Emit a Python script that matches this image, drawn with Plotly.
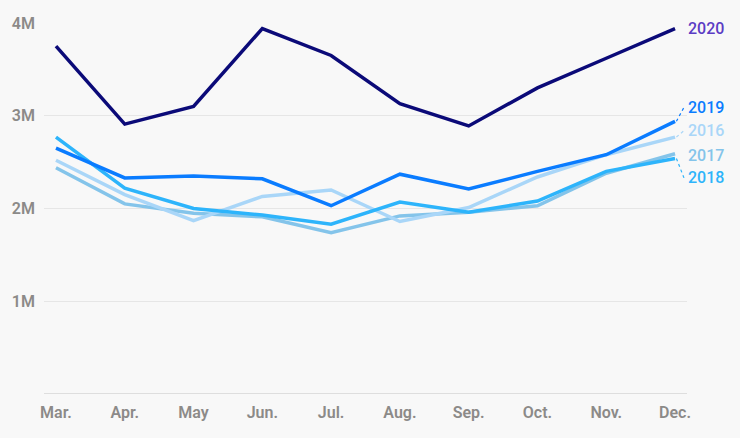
import plotly.graph_objects as go

months = ["Mar.", "Apr.", "May", "Jun.", "Jul.", "Aug.", "Sep.", "Oct.", "Nov.", "Dec."]
years = ["2016", "2017", "2018", "2019", "2020"]
v2016 = [2.52, 2.15, 1.87, 2.13, 2.20, 1.86, 2.01, 2.34, 2.58, 2.77]
v2017 = [2.44, 2.05, 1.95, 1.91, 1.74, 1.92, 1.96, 2.03, 2.38, 2.59]
v2018 = [2.77, 2.22, 2.00, 1.93, 1.83, 2.07, 1.96, 2.08, 2.40, 2.54]
v2019 = [2.65, 2.33, 2.35, 2.32, 2.03, 2.37, 2.21, 2.40, 2.58, 2.94]
v2020 = [3.75, 2.91, 3.10, 3.94, 3.65, 3.13, 2.89, 3.30, 3.62, 3.94]
series = {"2016": v2016, "2017": v2017, "2018": v2018, "2019": v2019, "2020": v2020}
line_colors = {"2016": "#a9d6f8", "2017": "#84c4ea", "2018": "#2db4fb", "2019": "#0a7cff", "2020": "#0b0a78"}
label_colors = {"2016": "#a9d6f8", "2017": "#84c4ea", "2018": "#2db4fb", "2019": "#0a7cff", "2020": "#5b3cc4"}
label_y = {"2016": 2.84, "2017": 2.57, "2018": 2.33, "2019": 3.09, "2020": 3.94}
y_ticks = [1, 2, 3, 4]
y_ticktext = ["1M", "2M", "3M", "4M"]

xs = list(range(len(months)))
fig = go.Figure()
# baseline
fig.add_shape(type="line", xref="paper", yref="y", x0=0, x1=1, y0=0, y1=0,
              line=dict(color="#d6d6d6", width=1.5), layer="below")

for yr in ["2017", "2016", "2018", "2019", "2020"]:
    fig.add_trace(go.Scatter(x=xs, y=series[yr], mode="lines",
                             line=dict(color=line_colors[yr], width=3.5),
                             cliponaxis=False, showlegend=False, hoverinfo="skip"))

last = len(months) - 1
for yr in years:
    dv = series[yr][-1]
    ly = label_y[yr]
    if abs(ly - dv) > 0.03:
        fig.add_trace(go.Scatter(x=[last + 0.02, last + 0.13], y=[dv, ly], mode="lines",
                                 line=dict(color=line_colors[yr], width=1.2, dash="dot"),
                                 cliponaxis=False, showlegend=False, hoverinfo="skip"))
    fig.add_annotation(x=last + 0.155, y=ly, xref="x", yref="y", text=yr, showarrow=False,
                       xanchor="left", yanchor="middle",
                       font=dict(family="Roboto", size=16, color=label_colors[yr], weight=500))

fig.update_layout(
    width=740, height=438,
    margin=dict(l=41, r=53, t=23, b=44),
    paper_bgcolor="#f8f8f8", plot_bgcolor="#f8f8f8",
    font=dict(family="Roboto", color="#8c8a88"),
    xaxis=dict(range=[-0.174, 9.174], tickvals=xs, ticktext=months, showgrid=False,
               zeroline=False, showline=False, ticks="", ticklabelstandoff=7,
               tickfont=dict(size=16, color="#8c8a88", family="Roboto", weight=600)),
    yaxis=dict(range=[0, 4], tickvals=y_ticks, ticktext=y_ticktext, showgrid=True,
               gridcolor="#e6e6e6", gridwidth=1, zeroline=False, showline=False, ticks="",
               ticklabelstandoff=8,
               tickfont=dict(size=16, color="#8c8a88", family="Roboto", weight=600)),
)
fig.write_html("out.html", config={"displayModeBar": False},
               post_script="document.body.style.margin='0';document.body.style.background='#f8f8f8';")
